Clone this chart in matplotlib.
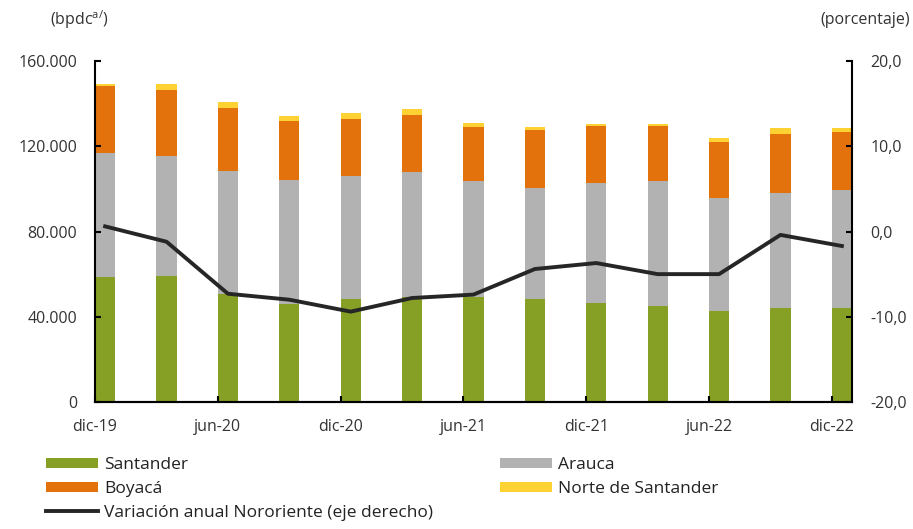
import matplotlib
matplotlib.use('Agg')
import matplotlib.pyplot as plt
import numpy as np

####################################################################################################

plt.rcParams['font.family'] = ['Open Sans', 'DejaVu Sans']

fechas = ['dic-19', 'mar-20', 'jun-20', 'sep-20', 'dic-20', 'mar-21', 'jun-21',
          'sep-21', 'dic-21', 'mar-22', 'jun-22', 'sep-22', 'dic-22']

santander = [58500, 59100, 50700, 45800, 48300, 49300, 49100, 48300, 46400, 45200, 42900, 44100, 44100]
arauca = [58200, 56500, 57700, 58400, 57700, 58500, 54400, 52300, 56500, 58300, 52800, 54100, 55200]
boyaca = [31400, 30600, 29400, 27500, 26900, 27000, 25400, 27000, 26400, 25800, 26400, 27700, 27500]
norte = [1100, 3000, 3100, 2500, 2500, 2500, 1900, 1300, 1300, 1300, 1900, 2500, 1600]

variacion = [0.6, -1.2, -7.3, -8.0, -9.4, -7.8, -7.4, -4.4, -3.7, -5.0, -5.0, -0.4, -1.7]

####################################################################################################

verde = '#86A025'
gris = '#B2B2B2'
naranja = '#E4720C'
amarillo = '#FFD233'
negro = '#262626'

fig = plt.figure(figsize=(9.13, 5.29), dpi=100)
ax = fig.add_axes([95/913, (529-402)/529, (852-95)/913, (402-61)/529])
ax2 = ax.twinx()

x = np.arange(len(fechas))
ancho = 0.33

b1 = ax.bar(x, santander, ancho, align='edge', color=verde, label='Santander')
bottom = np.array(santander)
b2 = ax.bar(x, arauca, ancho, align='edge', bottom=bottom, color=gris, label='Arauca')
bottom = bottom + np.array(arauca)
b3 = ax.bar(x, boyaca, ancho, align='edge', bottom=bottom, color=naranja, label='Boyacá')
bottom = bottom + np.array(boyaca)
b4 = ax.bar(x, norte, ancho, align='edge', bottom=bottom, color=amarillo, label='Norte de Santander')

l1, = ax2.plot(x + ancho/2, variacion, color=negro, linewidth=2.8,
               label='Variación anual Nororiente (eje derecho)')

ax.set_xlim(0, 12 + ancho)
ax.set_ylim(0, 160000)
ax2.set_ylim(-20, 20)

ax.set_yticks([0, 40000, 80000, 120000, 160000])
ax.set_yticklabels(['0', '40.000', '80.000', '120.000', '160.000'])
ax2.set_yticks([-20, -10, 0, 10, 20])
ax2.set_yticklabels(['-20,0', '-10,0', '0,0', '10,0', '20,0'])
ax.set_xticks(x[::2])
ax.set_xticklabels(fechas[::2])

for a in (ax, ax2):
    a.spines['top'].set_visible(False)
    for s in ('left', 'right', 'bottom'):
        a.spines[s].set_linewidth(1.5)
    a.tick_params(direction='in', length=4, width=1.5, labelsize=11.5, colors='black',
                  labelcolor='#333333')
ax.spines['right'].set_visible(False)
ax2.spines['left'].set_visible(False)
ax.tick_params(axis='y', pad=13)
ax2.tick_params(axis='y', pad=13)
ax.tick_params(axis='x', pad=12)

fig.text(50/913, 1 - 20/529, r'(bpdc$^{\mathregular{a/}}$)', fontsize=11.5, color='#333333',
         ha='left', va='center')
fig.text(910/913, 1 - 20/529, '(porcentaje)', fontsize=11.5, color='#333333',
         ha='right', va='center')

fuente_leyenda = {'family': ['Open Sans', 'DejaVu Sans'], 'size': 12.5}
opciones = dict(loc='upper left', frameon=False, prop=fuente_leyenda, handlelength=3.0,
                handleheight=0.5, handletextpad=0.35, labelspacing=0.45,
                borderaxespad=0, borderpad=0)

leg1 = fig.legend([b1, b3, l1],
                  ['Santander', 'Boyacá', 'Variación anual Nororiente (eje derecho)'],
                  bbox_to_anchor=(46/913, 1 - 457/529), **opciones)
leg2 = fig.legend([b2, b4], ['Arauca', 'Norte de Santander'],
                  bbox_to_anchor=(500/913, 1 - 457/529), **opciones)
for leg in (leg1, leg2):
    for t in leg.get_texts():
        t.set_color('#222222')

fig.savefig('out.png', dpi=100)
